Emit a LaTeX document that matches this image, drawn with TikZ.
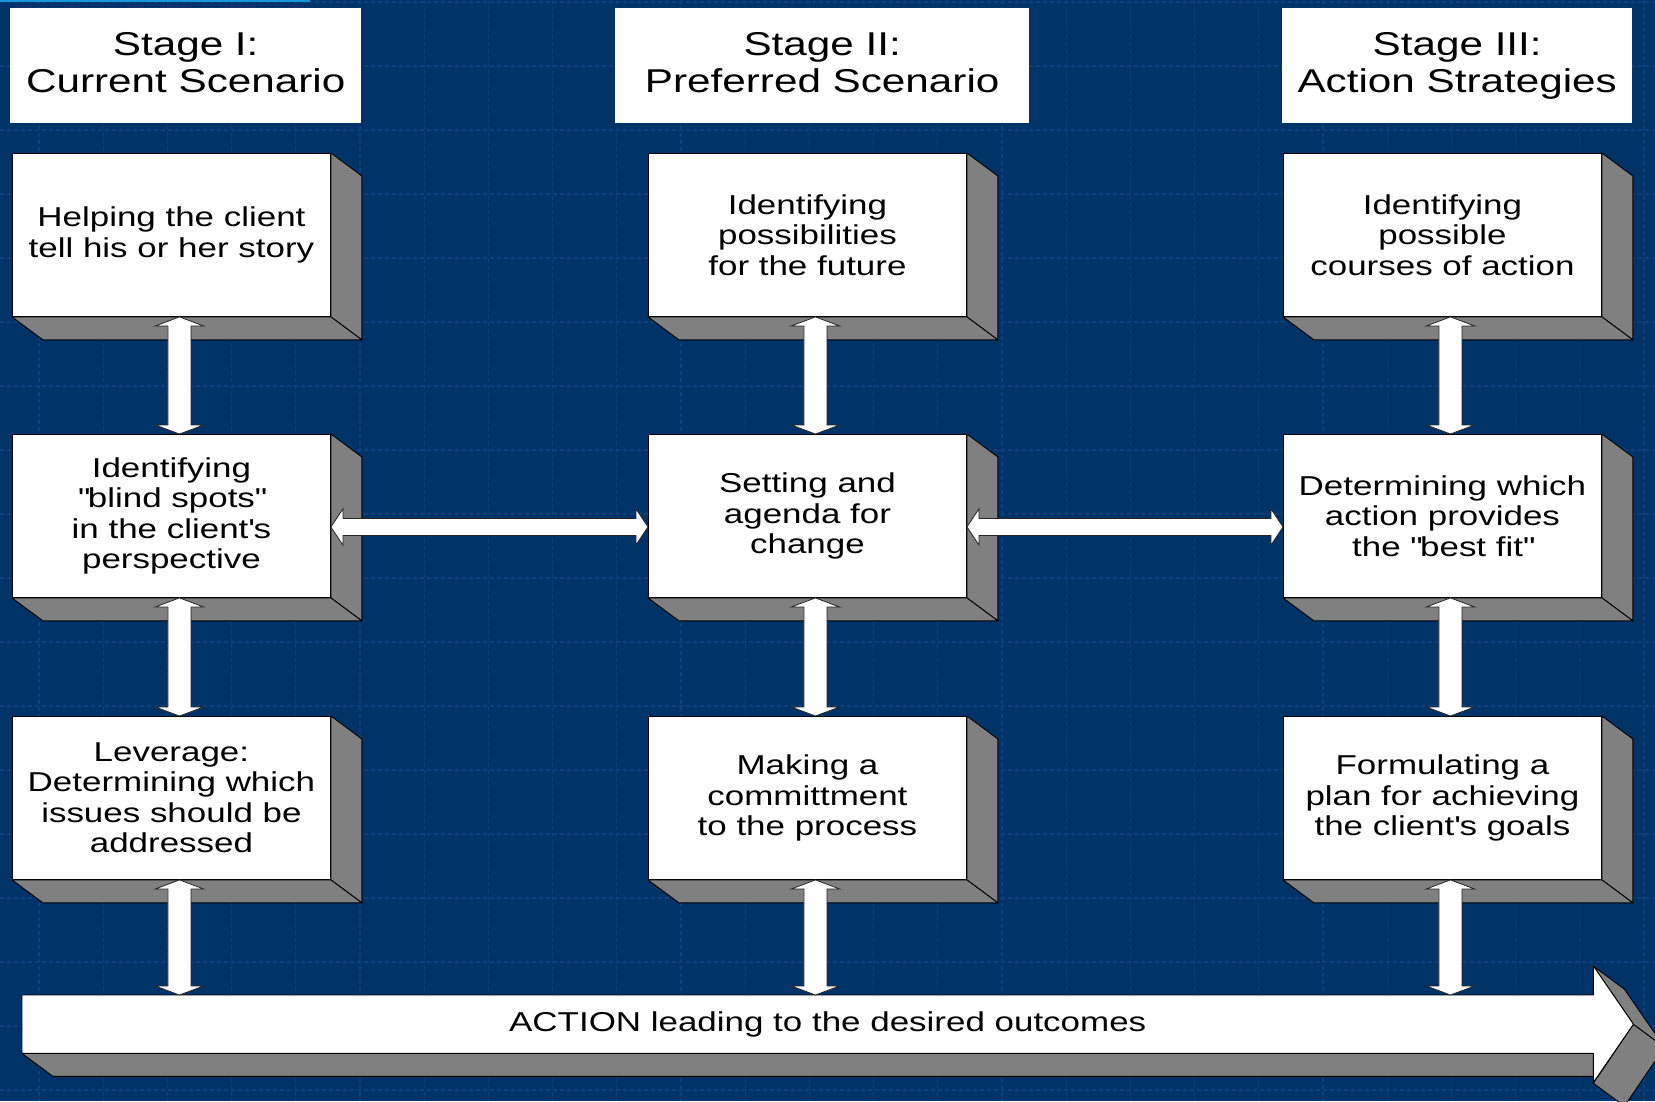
\documentclass[tikz,border=0pt]{standalone}
\usepackage{fontspec}
\setmainfont{Liberation Sans}[FakeStretch=1.28]
\usetikzlibrary{calc}
\definecolor{bgblue}{RGB}{0,52,104}
\definecolor{gridblue}{RGB}{14,64,124}
\definecolor{topline}{RGB}{20,150,215}
\definecolor{facegray}{RGB}{128,128,128}
\tikzset{
  card/.style={draw=black, line width=0.9pt, fill=white, rectangle, inner sep=0pt,
    minimum width=318pt, minimum height=163pt, anchor=north west, align=center,
    font=\fontsize{27.3}{30.5}\selectfont},
  header/.style={fill=white, rectangle, inner sep=0pt, minimum height=115pt,
    anchor=north west, align=center, font=\fontsize{33}{37}\selectfont},
  face/.style={draw=black, line width=0.9pt, fill=facegray, line join=round},
  flow/.style={draw=black!85, line width=0.8pt, fill=white, line join=miter},
  gridline/.style={gridblue, line width=1.2pt, dash pattern=on 4pt off 3pt},
  bandtext/.style={inner sep=0pt, font=\fontsize{27.3}{30.5}\selectfont},
}
\newcommand{\extrude}[1]{%
  \draw[face] (#1.north east) -- ++(31,23) -- ($(#1.south east)+(31,23)$) -- (#1.south east) -- cycle;
  \draw[face] (#1.south west) -- (#1.south east) -- ++(31,23) -- ($(#1.south west)+(31,23)$) -- cycle;
}
\newcommand{\vflow}[3]{%
  \path[flow] let \p1=($(#1)+(#3,0)$), \p2=(#2) in
   (\x1,\y1) -- (\x1+24pt,\y1-9pt) -- (\x1+11.5pt,\y1-9pt) -- (\x1+11.5pt,\y2+9pt)
   -- (\x1+24pt,\y2+9pt) -- (\x1,\y2) -- (\x1-24pt,\y2+9pt) -- (\x1-11.5pt,\y2+9pt)
   -- (\x1-11.5pt,\y1-9pt) -- (\x1-24pt,\y1-9pt) -- cycle;
}
\newcommand{\hflow}[3]{%
  \path[flow] let \p1=($(#1)+(0,#3)$), \p2=(#2) in
   (\x1,\y1) -- (\x1+12pt,\y1+18pt) -- (\x1+12pt,\y1+8.5pt) -- (\x2-12pt,\y1+8.5pt)
   -- (\x2-12pt,\y1+18pt) -- (\x2,\y1) -- (\x2-12pt,\y1-18pt) -- (\x2-12pt,\y1-8.5pt)
   -- (\x1+12pt,\y1-8.5pt) -- (\x1+12pt,\y1-18pt) -- cycle;
}
\begin{document}
\begin{tikzpicture}[x=1pt,y=-1pt]
\useasboundingbox (0,0) rectangle (1655,1101);
\clip (0,0) rectangle (1655,1101);
\fill[bgblue] (0,0) rectangle (1655,1101);
\foreach \i in {0,...,25} \draw[gridline] ({39+64.2*\i},0) -- ++(0,1101);
\foreach \j in {0,...,17} \draw[gridline] (0,{2+64*\j}) -- ++(1655,0);
\draw[topline, line width=2.5pt] (0,1) -- (310,1);

% headers
\node[header, minimum width=351pt] (h1) at (10,8) {Stage I:\\Current Scenario\vphantom{g}};
\node[header, minimum width=414pt] (h2) at (615,8) {Stage II:\\Preferred Scenario\vphantom{g}};
\node[header, minimum width=350pt] (h3) at (1282,8) {Stage III:\\Action Strategies\vphantom{g}};

% boxes
\node[card] (b11) at (12,153) {Helping the client\\tell his or her story};
\node[card] (b12) at (12,434) {Identifying\\\textquotedbl blind spots\textquotedbl\\in the client\textquotesingle s\\perspective};
\node[card] (b13) at (12,716) {Leverage:\\Determining which\\issues should be\\addressed};
\node[card] (b21) at (648,153) {Identifying\\possibilities\\for the future};
\node[card] (b22) at (648,434) {Setting and\\agenda for\\change};
\node[card] (b23) at (648,716) {Making a\\committment\\to the process};
\node[card] (b31) at (1283,153) {Identifying\\possible\\courses of action};
\node[card] (b32) at (1283,434) {Determining which\\action provides\\the \textquotedbl best fit\textquotedbl};
\node[card] (b33) at (1283,716) {Formulating a\\plan for achieving\\the client\textquotesingle s goals};
\foreach \b in {b11,b12,b13,b21,b22,b23,b31,b32,b33} {\extrude{\b}}

% action band
\node[minimum width=1611pt, minimum height=58pt, inner sep=0pt, anchor=north west] (band) at (22,995) {};
\draw[face] (band.south west) -- ($(band.south east)+(-40,0)$) -- ++(31,23) -- ($(band.south west)+(31,23)$) -- cycle;
\draw[face] (band.east) -- ($(band.east)+(-40,59)$) -- ++(31,23) -- ($(band.east)+(31,23)$) -- cycle;
\draw[face] ($(band.east)+(-40,-58)$) -- (band.east) -- ++(31,23) -- ($(band.east)+(-9,-35)$) -- cycle;
\draw[face, fill=white] (band.north west) -- ($(band.north east)+(-40,0)$) -- ++(0,-29) -- (band.east)
  -- ($(band.south east)+(-40,29)$) -- ++(0,-29) -- (band.south west) -- cycle;
\node[bandtext] (actiontext) at (band.center) {ACTION leading to the desired outcomes};

% vertical connectors
\vflow{b11.south}{b12.north}{8}
\vflow{b12.south}{b13.north}{8}
\vflow{b13.south}{band.north}{8}
\vflow{b21.south}{b22.north}{8}
\vflow{b22.south}{b23.north}{8}
\vflow{b23.south}{band.north}{8}
\vflow{b31.south}{b32.north}{8}
\vflow{b32.south}{b33.north}{8}
\vflow{b33.south}{band.north}{8}

% horizontal connectors
\hflow{b12.east}{b22.west}{11}
\hflow{b22.east}{b32.west}{11}
\end{tikzpicture}
\end{document}
